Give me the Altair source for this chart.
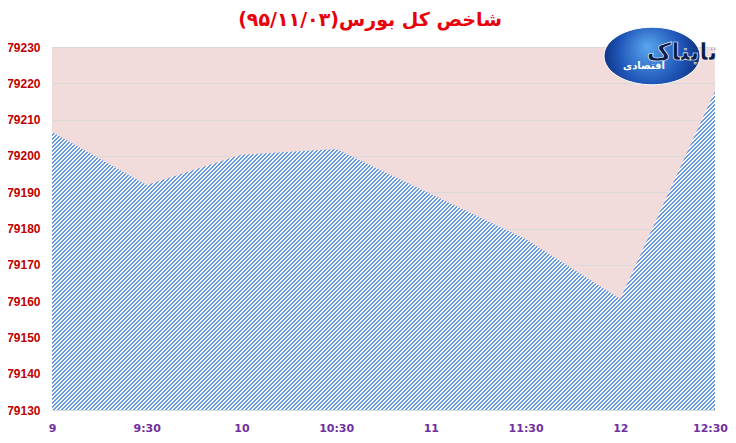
import altair as alt
import pandas as pd

# ---- data ----
times = ["9", "9:30", "10", "10:30", "11", "11:30", "12", "12:30"]
values = [79206.6, 79192.0, 79200.3, 79201.9, 79189.5, 79177.1, 79160.6, 79217.9]
y_ticks = [79130, 79140, 79150, 79160, 79170, 79180, 79190, 79200, 79210, 79220, 79230]
title_text = "\u202Bشاخص کل بورس(۹۵/۱۱/۰۳)\u202C"
logo_big = "تابناک"
logo_small = "اقتصادی"

y_min, y_max = y_ticks[0], y_ticks[-1]
W, H = 663, 363

df = pd.DataFrame({"time": times, "value": values})
one = pd.DataFrame({"k": [0]})

# ---- diagonal hatch pattern as a hard-stop linear gradient (styling) ----
blue = "#6699dd"
light = "#f4f7fc"
blue_frac = 0.4
top_px = (y_max - max(values)) / (y_max - y_min) * H
bw, bh = float(W), H - top_px
s = (bw + bh) / (bw ** 2 + bh ** 2)
period = 4.0
dt = period / (bw + bh)
stops = []
i = 0
while True:
    a = i * dt
    if a >= 1:
        break
    b = min(a + dt * blue_frac, 1.0)
    c = min(a + dt, 1.0)
    stops.append(alt.GradientStop(offset=round(a, 6), color=blue))
    stops.append(alt.GradientStop(offset=round(b, 6), color=blue))
    if b < 1:
        stops.append(alt.GradientStop(offset=round(b, 6), color=light))
        stops.append(alt.GradientStop(offset=round(c, 6), color=light))
    i += 1

hatch = alt.LinearGradient(
    gradient="linear", stops=stops, x1=0, y1=0, x2=bw * s, y2=bh * s
)

x_enc = alt.X(
    "time:O",
    sort=times,
    scale=alt.Scale(padding=0),
    axis=alt.Axis(
        title=None, labelAngle=0, ticks=False, domain=False, grid=False,
        labelColor="#7030a0", labelFont="DejaVu Sans", labelFontWeight="bold",
        labelFontSize=11, labelPadding=12,
        labelOffset={"expr": "datum.value == '12:30' ? -5 : 0"},
    ),
)
y_enc = alt.Y(
    "value:Q",
    scale=alt.Scale(domain=[y_min, y_max], zero=False, nice=False),
    axis=alt.Axis(
        title=None, values=y_ticks, format="d", ticks=False, domain=False,
        grid=True, gridColor="#d9d9d9", gridWidth=1,
        labelColor="#c00000", labelFont="Liberation Sans", labelFontWeight="bold",
        labelFontSize=12, labelPadding=12,
    ),
)

area = alt.Chart(df).mark_area(fill=hatch, interpolate="linear", clip=True).encode(
    x=x_enc, y=y_enc, y2=alt.datum(y_min)
)

title = alt.Chart(one).mark_text(
    font="DejaVu Sans", fontWeight="bold", fontSize=19, color="#e8000b",
    align="center", baseline="middle",
).encode(x=alt.value(318), y=alt.value(-27), text=alt.value(title_text))

ellipse_shape = "M -1 0 A 1 0.6 0 1 1 1 0 A 1 0.6 0 1 1 -1 0 Z"
logo_bg = alt.Chart(one).mark_point(
    shape=ellipse_shape, size=9216, filled=True, opacity=1,
    fill=alt.RadialGradient(
        gradient="radial",
        stops=[alt.GradientStop(offset=0, color="#5aa6ee"),
               alt.GradientStop(offset=0.6, color="#1f56b8"),
               alt.GradientStop(offset=1, color="#0b2a72")],
        x1=0.45, y1=0.4, r1=0, x2=0.5, y2=0.5, r2=0.55,
    ),
    stroke="#ffffff", strokeWidth=1,
).encode(x=alt.value(600), y=alt.value(9))

logo_t1 = alt.Chart(one).mark_text(
    font="DejaVu Sans", fontWeight="bold", fontSize=24, color="#0a1a4a",
    stroke="#ffffff", strokeWidth=0.6, align="center", baseline="middle",
).encode(x=alt.value(630), y=alt.value(6), text=alt.value(logo_big))

logo_t2 = alt.Chart(one).mark_text(
    font="DejaVu Sans", fontWeight="bold", fontSize=10, color="#ffffff",
    align="center", baseline="middle",
).encode(x=alt.value(592), y=alt.value(19), text=alt.value(logo_small))

chart = (
    alt.layer(area, title, logo_bg, logo_t1, logo_t2)
    .properties(
        width=W, height=H,
        autosize=alt.AutoSizeParams(type="none"),
        padding={"left": 44, "top": 39, "right": 13, "bottom": 25},
        background="#ffffff",
    )
    .configure_view(fill="#f2dcdb", strokeWidth=0)
)

chart.save("out.html", embed_options={"renderer": "svg", "actions": False})
